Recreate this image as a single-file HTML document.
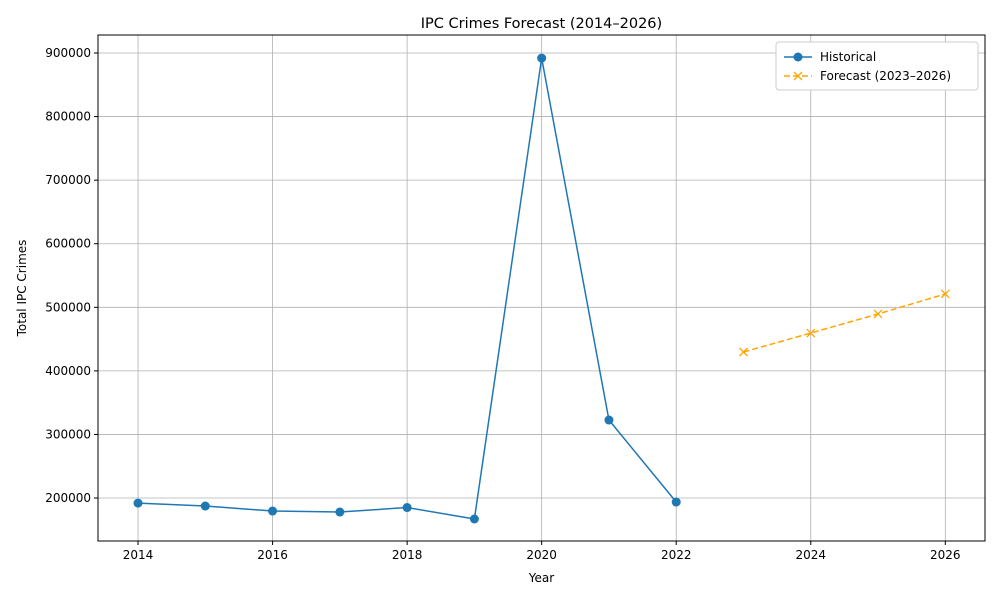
<!DOCTYPE html>
<html><head><meta charset="utf-8"><style>
body{margin:0;background:#fff;font-family:"Liberation Sans","DejaVu Sans",sans-serif;}
svg text{font-family:"DejaVu Sans","Liberation Sans",sans-serif;}
</style></head><body>
<svg id="chart" width="1000" height="600"></svg>
<script>
const histYears=[2014,2015,2016,2017,2018,2019,2020,2021,2022];
const histValues=[192000,187400,179500,178000,185000,167000,892000,322700,193700];
const fcYears=[2023,2024,2025,2026];
const fcValues=[429700,459500,489500,521000];
const xTicks=[2014,2016,2018,2020,2022,2024,2026];
const yTicks=[200000,300000,400000,500000,600000,700000,800000,900000];

const L=98,R=985,T=35,B=541;
const xMin=2013.405,xMax=2026.59,yMin=132400,yMax=928300;
const ns="http://www.w3.org/2000/svg";
const svg=document.getElementById('chart');
function X(v){return L+(v-xMin)/(xMax-xMin)*(R-L);}
function Y(v){return B-(v-yMin)/(yMax-yMin)*(B-T);}
function mk(tag,attrs,parent){const e=document.createElementNS(ns,tag);for(const k in attrs)e.setAttribute(k,attrs[k]);(parent||svg).appendChild(e);return e;}

const grid=mk('g',{});


xTicks.forEach(t=>{mk('line',{x1:X(t),x2:X(t),y1:T,y2:B,stroke:'#b0b0b0','stroke-width':0.8},grid);});
yTicks.forEach(t=>{mk('line',{x1:L,x2:R,y1:Y(t),y2:Y(t),stroke:'#b0b0b0','stroke-width':0.8},grid);});

const xax=mk('g',{});


xTicks.forEach(t=>{mk('line',{x1:X(t),x2:X(t),y1:B,y2:B+4,stroke:'#000'},xax);
const tx=mk('text',{x:X(t),y:B+18,'font-size':12,'text-anchor':'middle'},xax);tx.textContent=t;});
const yax=mk('g',{});


yTicks.forEach(t=>{mk('line',{x1:L-4,x2:L,y1:Y(t),y2:Y(t),stroke:'#000'},yax);
const tx=mk('text',{x:L-7,y:Y(t)+4,'font-size':12,'text-anchor':'end'},yax);tx.textContent=t;});

mk('rect',{x:L,y:T,width:R-L,height:B-T,fill:'none',stroke:'#000','stroke-width':1});

const hist=mk('g',{});


mk('polyline',{points:histYears.map((y,i)=>X(y)+','+Y(histValues[i])).join(' '),fill:'none',stroke:'#1f77b4','stroke-width':1.5},hist);
histYears.forEach((y,i)=>{const c=mk('circle',{cx:X(y),cy:Y(histValues[i]),r:4.5,fill:'#1f77b4'},hist);

});

const fc=mk('g',{});


mk('polyline',{points:fcYears.map((y,i)=>X(y)+','+Y(fcValues[i])).join(' '),fill:'none',stroke:'#ffa500','stroke-width':1.5,'stroke-dasharray':'6,3'},fc);
fcYears.forEach((y,i)=>{const cx=X(y),cy=Y(fcValues[i]);
const p=mk('path',{d:`M${cx-4},${cy-4}L${cx+4},${cy+4}M${cx-4},${cy+4}L${cx+4},${cy-4}`,stroke:'#ffa500','stroke-width':1.3},fc);

});

function txt(s,a,name){const t=mk('text',a);t.textContent=s;return t;}
txt('IPC Crimes Forecast (2014–2026)',{x:(L+R)/2,y:28,'font-size':14.5,'text-anchor':'middle'},'chart-title');
txt('Year',{x:(L+R)/2,y:582,'font-size':12,'text-anchor':'middle'},'x-axis-title');
txt('Total IPC Crimes',{x:26,y:(T+B)/2,'font-size':12,'text-anchor':'middle',transform:`rotate(-90 26 ${(T+B)/2})`},'y-axis-title');

const lg=mk('g',{});


mk('rect',{x:776,y:42,width:202,height:48,rx:3,fill:'#fff',stroke:'#ccc'},lg);
mk('line',{x1:784,x2:812,y1:57,y2:57,stroke:'#1f77b4','stroke-width':1.5},lg);
mk('circle',{cx:798,cy:57,r:4.5,fill:'#1f77b4'},lg);
const t1=mk('text',{x:820,y:61,'font-size':12},lg);t1.textContent='Historical';
mk('line',{x1:784,x2:812,y1:76,y2:76,stroke:'#ffa500','stroke-width':1.5,'stroke-dasharray':'6,3'},lg);
mk('path',{d:'M794,72L802,80M794,80L802,72',stroke:'#ffa500','stroke-width':1.3},lg);
const t2=mk('text',{x:820,y:80,'font-size':12},lg);t2.textContent='Forecast (2023–2026)';
</script>
</body></html>
